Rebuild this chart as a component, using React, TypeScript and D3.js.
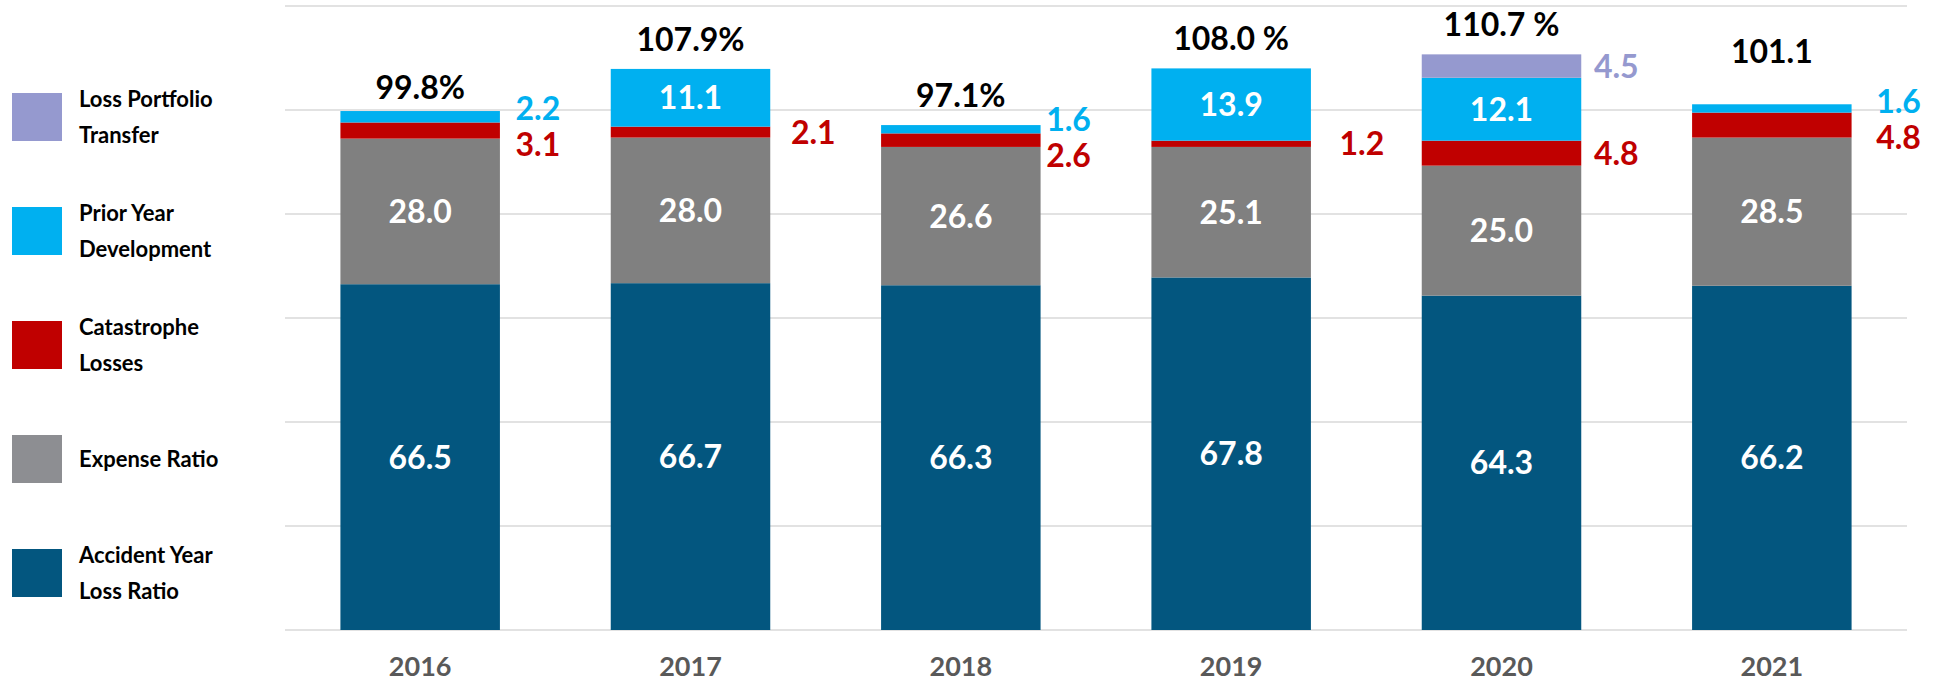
import { useEffect, useRef } from 'react';
import * as d3 from 'd3';

const years = ['2016', '2017', '2018', '2019', '2020', '2021'];
const accidentYear = [66.5, 66.7, 66.3, 67.8, 64.3, 66.2];
const expenseRatio = [28.0, 28.0, 26.6, 25.1, 25.0, 28.5];
const catLosses = [3.1, 2.1, 2.6, 1.2, 4.8, 4.8];
const priorYear = [2.2, 11.1, 1.6, 13.9, 12.1, 1.6];
const lossPortfolio = [0, 0, 0, 0, 4.5, 0];
const totalLabels = ['99.8%', '107.9%', '97.1%', '108.0 %', '110.7 %', '101.1'];
const yTicks = [0, 20, 40, 60, 80, 100, 120];

const seriesKeys = ['acc', 'exp', 'cat', 'py', 'lpt'];
const seriesColors = {
    acc: '#03567f',
    exp: '#808080',
    cat: '#c00000',
    py: '#00b0f0',
    lpt: '#9599cf',
};
const legendItems = [
    { key: 'lpt', lines: ['Loss Portfolio', 'Transfer'], color: '#9599cf' },
    { key: 'py', lines: ['Prior Year', 'Development'], color: '#00b0f0' },
    { key: 'cat', lines: ['Catastrophe', 'Losses'], color: '#c00000' },
    { key: 'exp', lines: ['Expense Ratio'], color: '#8d8e92' },
    { key: 'acc', lines: ['Accident Year', 'Loss Ratio'], color: '#03567f' },
];

// hand placed label nudges, as in the original slide
const totalGap = [12, 18, 18, 18, 18, 41];
const outsideDx = [38, 43, 28, 51, 35, 47];

const FONT = 'Lato, "Open Sans", sans-serif';

export default function App() {
    const svgRef = useRef(null);

    useEffect(() => {
        const svg = d3.select(svgRef.current);
        svg.selectAll('*').remove();

        const rows = years.map((y, i) => ({
            year: y,
            acc: accidentYear[i],
            exp: expenseRatio[i],
            cat: catLosses[i],
            py: priorYear[i],
            lpt: lossPortfolio[i],
        }));

        const x = d3.scaleBand().domain(years).range([285, 1907]).paddingInner(0.41).paddingOuter(0.205);
        const y = d3.scaleLinear().domain([0, 120]).range([630, 6]);

        // gridlines
        svg.append('g')
            .selectAll('line')
            .data(yTicks)
            .enter()
            .append('line')
            .attr('x1', 285)
            .attr('x2', 1907)
            .attr('y1', d => y(d))
            .attr('y2', d => y(d))
            .attr('stroke', '#d9d9d9')
            .attr('stroke-width', 1.5);

        const stacked = d3.stack().keys(seriesKeys)(rows);

        const layers = svg.append('g')
            .selectAll('g')
            .data(stacked)
            .enter()
            .append('g')
            .attr('fill', d => seriesColors[d.key]);

        layers.selectAll('rect')
            .data(d => d.filter(s => s[1] - s[0] > 0))
            .enter()
            .append('rect')
            .attr('x', d => x(d.data.year))
            .attr('width', x.bandwidth())
            .attr('y', d => y(d[1]))
            .attr('height', d => y(d[0]) - y(d[1]));

        const labels = svg.append('g')
            .attr('font-family', FONT)
            .attr('font-weight', 700)
            .attr('font-size', 32)
            .attr('text-anchor', 'middle');

        const capHalf = 11.5;

        rows.forEach((r, i) => {
            const bx = x(r.year);
            const cx = bx + x.bandwidth() / 2;
            const seg = key => stacked.find(s => s.key === key)[i];
            const mid = key => (y(seg(key)[0]) + y(seg(key)[1])) / 2;

            // inside labels
            const inside = ['acc', 'exp'];
            if (r.py > 5) inside.push('py');
            inside.forEach(k => {
                labels.append('text')
                    .attr('x', cx)
                    .attr('y', mid(k) + capHalf)
                    .attr('fill', '#ffffff')
                    .text(r[k].toFixed(1));
            });

            // outside labels
            const outside = [];
            if (r.lpt > 0) outside.push({ k: 'lpt', c: mid('lpt') });
            if (r.py <= 5) outside.push({ k: 'py', c: mid('py') });
            outside.push({ k: 'cat', c: mid('cat') });
            if (outside.length === 2 && outside[1].c - outside[0].c < 36) {
                const m = (outside[0].c + outside[1].c) / 2 + 3;
                outside[0].c = m - 18;
                outside[1].c = m + 18;
            }
            outside.forEach(o => {
                labels.append('text')
                    .attr('x', bx + x.bandwidth() + outsideDx[i])
                    .attr('y', o.c + capHalf)
                    .attr('fill', seriesColors[o.k])
                    .text(r[o.k].toFixed(1));
            });

            // total
            const total = r.acc + r.exp + r.cat + r.py + r.lpt;
            labels.append('text')
                .attr('x', cx)
                .attr('y', y(total) - totalGap[i])
                .attr('fill', '#000000')
                .text(totalLabels[i]);
        });

        // year axis labels
        svg.append('g')
            .selectAll('text')
            .data(years)
            .enter()
            .append('text')
            .attr('x', d => x(d) + x.bandwidth() / 2)
            .attr('y', 676)
            .attr('text-anchor', 'middle')
            .attr('font-family', FONT)
            .attr('font-weight', 700)
            .attr('font-size', 27)
            .attr('fill', '#595959')
            .text(d => d);

        // legend
        const legend = svg.append('g')
            .attr('font-family', FONT)
            .attr('font-weight', 700)
            .attr('font-size', 22)
            .attr('fill', '#000000');

        legendItems.forEach((item, i) => {
            const cy = 117 + i * 114;
            legend.append('rect')
                .attr('x', 12)
                .attr('y', cy - 24)
                .attr('width', 50)
                .attr('height', 48)
                .attr('fill', item.color);
            const lineH = 36;
            const startBase = cy + 8 - ((item.lines.length - 1) * lineH) / 2;
            item.lines.forEach((ln, j) => {
                legend.append('text')
                    .attr('x', 79)
                    .attr('y', startBase + j * lineH)
                    .text(ln);
            });
        });
    }, []);

    return (
        <svg
            ref={svgRef}
            width="1937"
            height="684"
            style={{ position: 'absolute', left: 0, top: 0, background: '#ffffff' }}
        ></svg>
    );
}
